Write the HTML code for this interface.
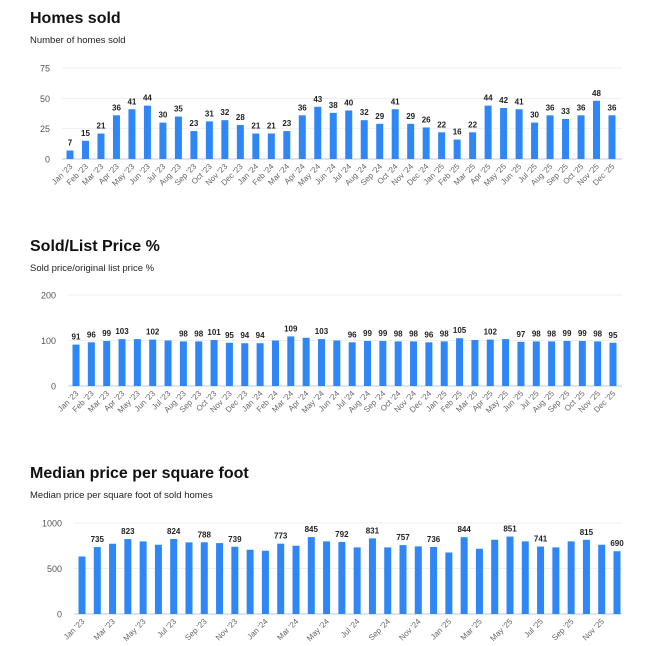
<!DOCTYPE html>
<html><head><meta charset="utf-8"><style>
body{margin:0;background:#fff;width:658px;height:646px;overflow:hidden;font-family:"Liberation Sans",sans-serif}
svg{position:absolute;left:0;top:0}
</style></head><body>
<svg id="s" width="658" height="646"></svg>
<script>
const months=["Jan '23","Feb '23","Mar '23","Apr '23","May '23","Jun '23","Jul '23","Aug '23","Sep '23","Oct '23","Nov '23","Dec '23","Jan '24","Feb '24","Mar '24","Apr '24","May '24","Jun '24","Jul '24","Aug '24","Sep '24","Oct '24","Nov '24","Dec '24","Jan '25","Feb '25","Mar '25","Apr '25","May '25","Jun '25","Jul '25","Aug '25","Sep '25","Oct '25","Nov '25","Dec '25"];
const homesSold=[7,15,21,36,41,44,30,35,23,31,32,28,21,21,23,36,43,38,40,32,29,41,29,26,22,16,22,44,42,41,30,36,33,36,48,36];
const homesTicks=[0,25,50,75];
const soldList=[91,96,99,103,103,102,100,98,98,101,95,94,94,100,109,106,103,100,96,99,99,98,98,96,98,105,101,102,103,97,98,98,99,99,98,95];
const soldListShow=[1,1,1,1,0,1,0,1,1,1,1,1,1,0,1,0,1,0,1,1,1,1,1,1,1,1,0,1,0,1,1,1,1,1,1,1];
const soldTicks=[0,100,200];
const ppsf=[632,735,772,823,798,761,824,787,788,779,739,706,695,773,750,845,798,792,732,831,732,757,743,736,676,844,717,816,851,798,741,732,798,815,761,690];
const ppsfShow=[0,1,0,1,0,0,1,0,1,0,1,0,0,1,0,1,0,1,0,1,0,1,0,1,0,1,0,0,1,0,1,0,0,1,0,1];
const ppsfTicks=[0,500,1000];
const NS="http://www.w3.org/2000/svg";
const svg=document.getElementById('s');
function mk(t,a,txt){const e=document.createElementNS(NS,t);for(const k in a)e.setAttribute(k,a[k]);if(txt!=null)e.textContent=txt;svg.appendChild(e);return e;}
function chart(o){
  const t=mk('text',{x:30,y:o.ty,'font-size':16,'font-weight':'bold',fill:'#111'},o.title);
  
  
  const st=mk('text',{x:30,y:o.ty+20,'font-size':9.5,fill:'#222'},o.sub);
  
  
  const max=o.ticks[o.ticks.length-1];
  const y=v=>o.y0-(v/max)*(o.y0-o.yTop);
  const x=i=>o.x0+i*(o.x1-o.x0)/(o.vals.length-1);
  o.ticks.forEach(tv=>{
    const g=mk('line',{x1:o.px0,x2:622,y1:y(tv),y2:y(tv),stroke:tv===0?'#d5dcea':'#eeeff2','stroke-width':tv===0?1.5:1});
    
    
    const l=mk('text',{x:o.px0-12,y:y(tv)+3.5,'font-size':9,fill:'#555','text-anchor':'end'},tv);
    
    
  });
  o.vals.forEach((v,i)=>{
    const b=mk('rect',{x:x(i)-3.5,y:y(v),width:7,height:o.y0-y(v),fill:'#2f86f6'});
    
    
    if(!o.show||o.show[i]){
      const l=mk('text',{x:x(i),y:y(v)-5,'font-size':8,'font-weight':'bold',fill:'#222','text-anchor':'middle'},v);
      
      
    }
    if(i%o.step===0){
      const tx=x(i)+3,ty=o.y0+8;
      const l=mk('text',{x:tx,y:ty,'font-size':8,fill:'#666','text-anchor':'end',transform:`rotate(-45 ${tx} ${ty})`},months[i]);
      
      
    }
  });
}
chart({key:'homes-sold',title:'Homes sold',sub:'Number of homes sold',ty:23,vals:homesSold,ticks:homesTicks,y0:159,yTop:68,x0:70,x1:612,px0:62,step:1});
chart({key:'sold-list',title:'Sold/List Price %',sub:'Sold price/original list price %',ty:251,vals:soldList,show:soldListShow,ticks:soldTicks,y0:386,yTop:295,x0:76,x1:613,px0:68,step:1});
chart({key:'price-sqft',title:'Median price per square foot',sub:'Median price per square foot of sold homes',ty:478,vals:ppsf,show:ppsfShow,ticks:ppsfTicks,y0:614,yTop:523,x0:82,x1:617,px0:74,step:2});
</script>
</body></html>
